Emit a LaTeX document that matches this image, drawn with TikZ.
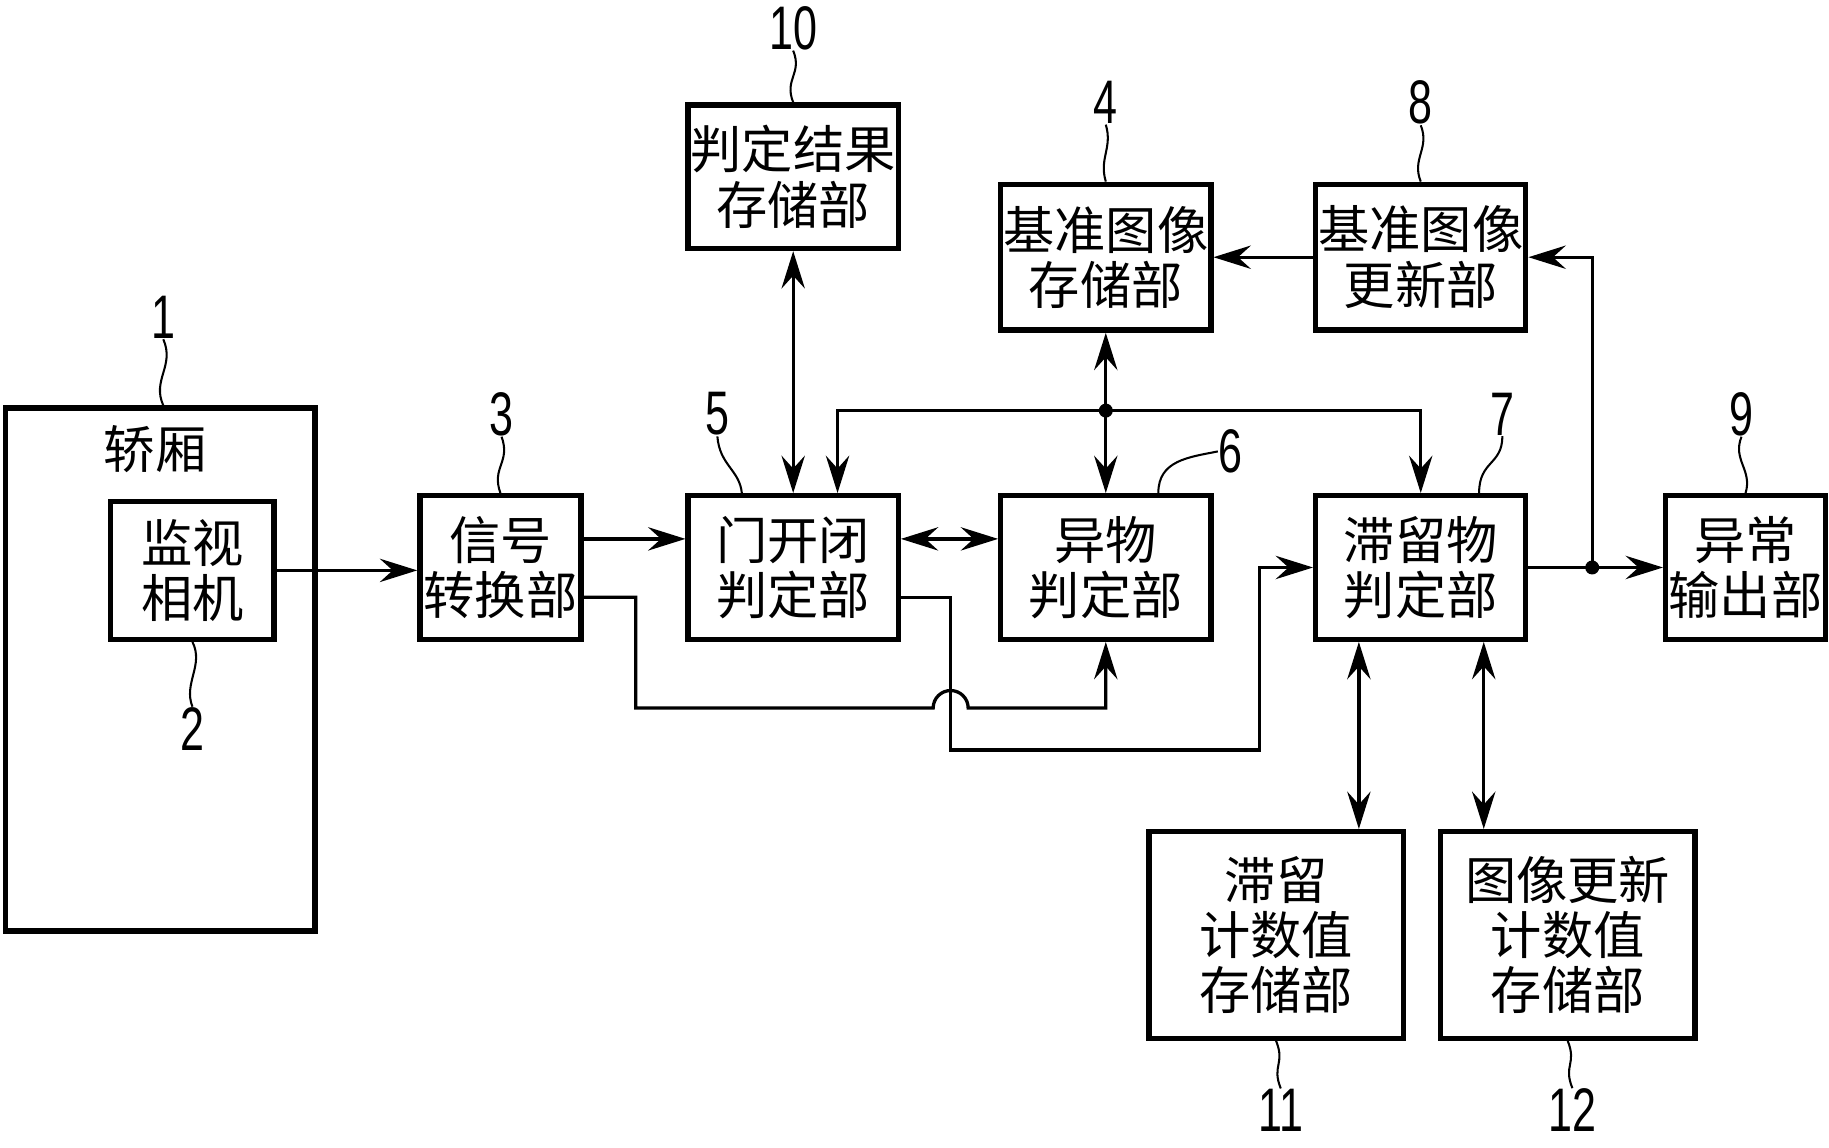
\documentclass[tikz,border=0pt]{standalone}
\usepackage{fontspec}
\newfontfamily\cjk{Noto Sans CJK SC}
\newfontfamily\numfont[FakeStretch=0.7]{Liberation Sans}
\usetikzlibrary{arrows.meta}

\begin{document}
\begin{tikzpicture}[x=0.01cm, y=-0.01cm,
		box/.style={draw, line width=1.3pt, inner sep=0pt, align=center, font=\cjk\fontsize{12.5}{13.5}\selectfont},
		num/.style={font=\numfont\fontsize{15}{15}\selectfont, inner sep=0pt},
		lead/.style={line width=0.5pt},
		conn/.style={line width=0.8pt},
		>={Stealth[length=3.2mm, width=2mm, inset=1.1mm]}]
	\useasboundingbox (0,0) rectangle (1568,984);
	% blocks
	\node[box, minimum width=2.65cm, minimum height=4.48cm] (car) at (137.5,574) {};
	\node[box, draw=none] (carlbl) at (133,385) {轿厢};
	\node[box, minimum width=1.4cm, minimum height=1.18cm] (cam) at (165,489) {监视\\相机};
	\node[box, minimum width=1.38cm, minimum height=1.23cm] (sig) at (429,486.5) {信号\\转换部};
	\node[box, minimum width=1.8cm, minimum height=1.23cm] (door) at (680,486.5) {门开闭\\判定部};
	\node[box, minimum width=1.8cm, minimum height=1.23cm] (frn) at (948,486.5) {异物\\判定部};
	\node[box, minimum width=1.8cm, minimum height=1.23cm] (stag) at (1218,486.5) {滞留物\\判定部};
	\node[box, minimum width=1.37cm, minimum height=1.23cm] (abn) at (1496.5,486.5) {异常\\输出部};
	\node[box, minimum width=1.8cm, minimum height=1.23cm] (res) at (680,151.5) {判定结果\\存储部};
	\node[box, minimum width=1.8cm, minimum height=1.25cm] (ref) at (948,220.5) {基准图像\\存储部};
	\node[box, minimum width=1.8cm, minimum height=1.25cm] (upd) at (1218,220.5) {基准图像\\更新部};
	\node[box, minimum width=2.18cm, minimum height=1.77cm] (cnt) at (1094,801.5) {滞留\\计数值\\存储部};
	\node[box, minimum width=2.18cm, minimum height=1.77cm] (img) at (1344,801.5) {图像更新\\计数值\\存储部};
	% reference numbers
	\foreach \n/\x/\y in {1/140/272, 2/165/625, 3/430/355, 4/948/88, 5/615/355, 6/1055/387,
			7/1288/355, 8/1218/88, 9/1493/355, 10/680/24, 11/1098/952, 12/1348/952}
		\node[num] (n\n) at (\x,\y) {\n};
	\draw[lead] (n1.south) .. controls +(10,23) and +(-10,-22) .. (car.north -| n1);
	\draw[lead] (cam.south) .. controls +(10,20) and +(-8,-20) .. (n2.north);
	\draw[lead] (n3.south) .. controls +(8,22) and +(-8,-22) .. (sig.north);
	\draw[lead] (n10.south) .. controls +(8,20) and +(-8,-20) .. (res.north);
	\draw[lead] (n4.south) .. controls +(6,20) and +(-6,-20) .. (ref.north);
	\draw[lead] (n8.south) .. controls +(8,20) and +(-8,-20) .. (upd.north);
	\draw[lead] (n5.south) .. controls +(2,25) and +(-2,-20) .. ([xshift=-4.4mm]door.north);
	\draw[lead] ([xshift=4.5mm]frn.north) .. controls +(0,-28) and +(-25,5) .. (n6.west);
	\draw[lead] ([xshift=5mm]stag.north) .. controls +(0,-28) and +(0,25) .. (n7.south);
	\draw[lead] (n9.south) .. controls +(-8,20) and +(6,-20) .. (abn.north);
	\draw[lead] (cnt.south) .. controls +(8,20) and +(-8,-20) .. (n11.north);
	\draw[lead] (img.south) .. controls +(8,20) and +(-8,-20) .. (n12.north);
	% connectors
	\coordinate (jn) at (948,352);
	\coordinate (jo) at (1365,486.5);
	\coordinate (sl) at (545,607);
	\coordinate (hopL) at (800,607);
	\coordinate (dr) at (815,643);
	\coordinate (sr) at (1080,643);
	\draw[conn,->] (cam.east) -- (cam.east -| sig.west);
	\draw[conn,->] ([yshift=2.45mm]sig.east) -- ([yshift=2.45mm]door.west);
	\draw[conn,<->] ([yshift=2.45mm]door.east) -- ([yshift=2.45mm]frn.west);
	\draw[conn,->] ([yshift=-2.55mm]sig.east) -| (sl) -- (hopL)
		arc[start angle=180, end angle=0, radius=1.5mm] -- (frn.south |- sl) -- (frn.south);
	\draw[conn,->] ([yshift=-2.55mm]door.east) -| (dr) -- (sr) |- (stag.west);
	\draw[conn,<->] (res.south) -- (door.north);
	\draw[conn,<->] (ref.south) -- (frn.north);
	\draw[conn,->] (jn) -| ([xshift=3.8mm]door.north);
	\draw[conn,->] (jn) -| (stag.north);
	\fill (jn) circle[radius=0.6mm];
	\draw[conn,->] (upd.west) -- (ref.east);
	\draw[conn,->] (stag.east) -- (abn.west);
	\draw[conn,->] (jo) |- (upd.east);
	\fill (jo) circle[radius=0.6mm];
	\draw[conn,<->] ([xshift=-5.3mm]stag.south) -- ([xshift=-5.3mm]stag.south |- cnt.north);
	\draw[conn,<->] ([xshift=5.4mm]stag.south) -- ([xshift=5.4mm]stag.south |- img.north);
\end{tikzpicture}
\end{document}
